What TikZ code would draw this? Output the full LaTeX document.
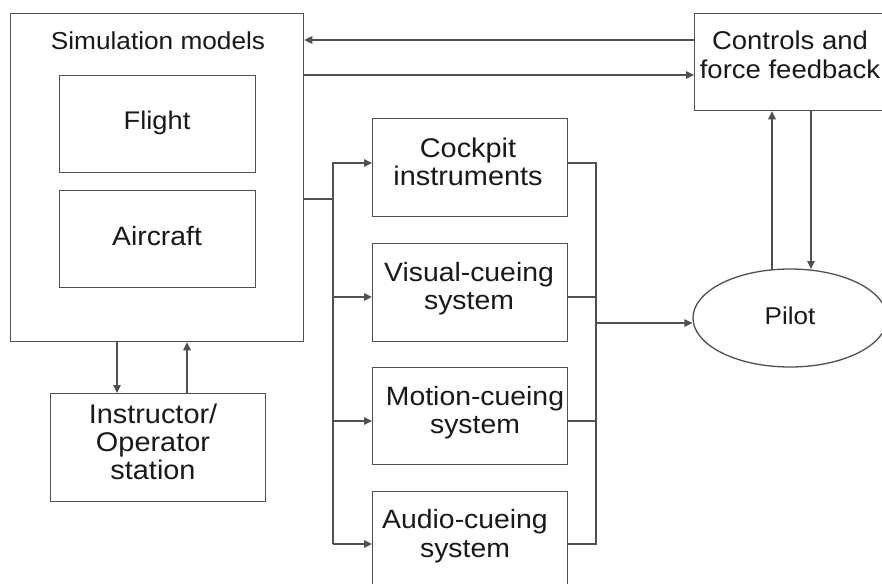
\documentclass[tikz,border=0pt]{standalone}
\usepackage{fontspec}
\setmainfont[FakeStretch=1.07]{Liberation Sans}
\usetikzlibrary{arrows.meta,shapes.geometric}
\definecolor{linec}{RGB}{80,80,80}
\definecolor{textc}{RGB}{25,25,25}
\tikzset{
  box/.style={draw=linec,line width=1.3pt,rectangle,inner sep=0pt,anchor=north west},
  lbl/.style={text=textc,anchor=base,inner sep=0pt,align=center,font=\fontsize{26.5}{28}\selectfont},
  conn/.style={draw=linec,line width=1.3pt},
  arr/.style={conn,-{Triangle[length=8pt,width=7.5pt]}}
}
\begin{document}
\begin{tikzpicture}[x=1pt,y=-1pt]
\useasboundingbox (0,0) rectangle (882,583);
\clip (0,0) rectangle (882,583);
\fill[white] (0,0) rectangle (882,583);
% boxes
\node[box,minimum width=293pt,minimum height=328pt] (sim) at (10,13) {};
\node[box,minimum width=196pt,minimum height=97pt] (fl) at (59,75) {};
\node[box,minimum width=196pt,minimum height=97pt] (ac) at (59,190) {};
\node[box,minimum width=215pt,minimum height=108pt] (ins) at (50,393) {};
\node[box,minimum width=195pt,minimum height=98pt] (cp) at (372,118) {};
\node[box,minimum width=195pt,minimum height=98pt] (vi) at (372,243) {};
\node[box,minimum width=195pt,minimum height=97pt] (mo) at (372,367) {};
\node[box,minimum width=195pt,minimum height=98pt] (au) at (372,491) {};
\node[box,minimum width=210pt,minimum height=97pt] (ctrl) at (694,13) {};
\node[draw=linec,line width=1.3pt,ellipse,minimum width=194pt,minimum height=98pt,inner sep=0pt] (pilot) at (790,318) {};
% labels (base anchor = baseline of the last line)
\node[lbl,font=\fontsize{24.5}{28}\selectfont] (simt) at (158,50) {Simulation models};
\node[lbl,font=\fontsize{25.5}{28}\selectfont] (flt) at (157,129) {Flight};
\node[lbl,font=\fontsize{26.5}{28}\selectfont] (act) at (157,245) {Aircraft};
\node[lbl,font=\fontsize{27}{28}\selectfont] (inst) at (153,479) {Instructor/\\Operator\\station};
\node[lbl,font=\fontsize{27}{28}\selectfont] (cpt) at (468,185) {Cockpit\\instruments};
\node[lbl,font=\fontsize{26.5}{27.5}\selectfont] (vit) at (469,309) {Visual-cueing\\system};
\node[lbl,font=\fontsize{26.5}{28}\selectfont] (mot) at (475,433) {Motion-cueing\\system};
\node[lbl,font=\fontsize{26.5}{29}\selectfont] (aut) at (465,557) {Audio-cueing\\system};
\node[lbl,font=\fontsize{25.7}{29}\selectfont] (ctrlt) at (790,79) {Controls and\\force feedback};
\node[lbl,font=\fontsize{24.3}{28}\selectfont] (pilott) at (790,324) {Pilot};
% bus coordinates
\coordinate (lbb) at (333,544);
\coordinate (rbb) at (596,544);
% connectors
\draw[arr] (ctrl.west |- 0,40) -- (sim.east |- 0,40);
\draw[arr] (sim.east |- 0,75) -- (ctrl.west |- 0,75);
\draw[conn] (sim.east |- 0,199) -- (lbb |- 0,199);
\draw[arr] (lbb) |- (cp.west |- 0,163);
\draw[arr] (lbb |- 0,297) -- (vi.west |- 0,297);
\draw[arr] (lbb |- 0,421) -- (mo.west |- 0,421);
\draw[arr] (lbb) -- (au.west |- lbb);
\draw[conn] (cp.east |- 0,163) -| (rbb) -- (au.east |- rbb);
\draw[conn] (vi.east |- 0,297) -- (rbb |- 0,297);
\draw[conn] (mo.east |- 0,421) -- (rbb |- 0,421);
\draw[arr] (rbb |- 0,323) -- (pilot.west |- 0,323);
\draw[arr] (772,270) -- (772,0 |- ctrl.south);
\draw[arr] (811,0 |- ctrl.south) -- (811,269);
\draw[arr] (117,0 |- sim.south) -- (117,0 |- ins.north);
\draw[arr] (187,0 |- ins.north) -- (187,0 |- sim.south);
\end{tikzpicture}
\end{document}
